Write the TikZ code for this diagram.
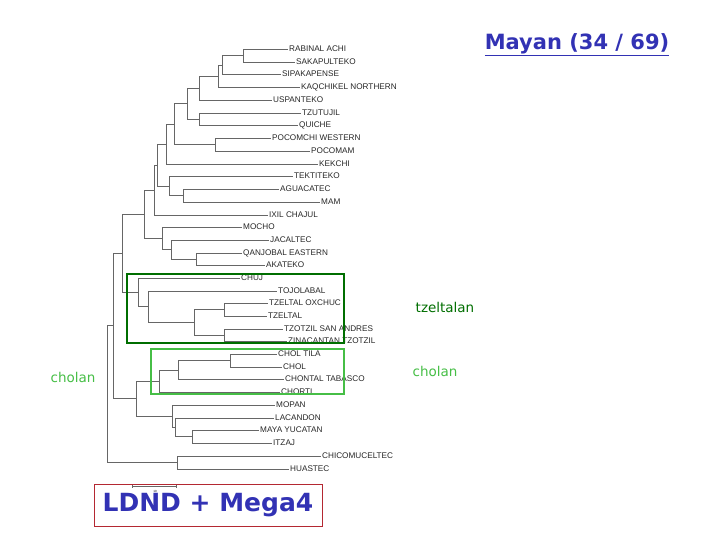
\documentclass[tikz,border=0pt]{standalone}
\usepackage{fontspec}
\setmainfont{Liberation Sans}
\newfontfamily\dvs{DejaVu Sans}
\begin{document}
\begin{tikzpicture}[x=1pt,y=-1pt,
 leaf/.style={anchor=west,inner sep=1pt,font=\fontsize{8.2}{9}\selectfont,text=black!85},
 br/.style={draw=black!60,line width=0.8pt},
 dkbox/.style={draw={rgb,255:red,0;green,110;blue,0},line width=2pt},
 ltbox/.style={draw={rgb,255:red,70;green,190;blue,70},line width=2pt}]
\useasboundingbox (0,0) rectangle (720,540);
% leaves
\foreach \n/\x/\y/\t in {rab/288/49/RABINAL ACHI, sak/295/62/SAKAPULTEKO, sip/281/74/SIPAKAPENSE, kaq/300/87/KAQCHIKEL NORTHERN, usp/272/100/USPANTEKO, tzu/301/113/TZUTUJIL, qui/298/125/QUICHE, pcw/271/138/POCOMCHI WESTERN, pcm/310/151/POCOMAM, kek/318/164/KEKCHI, tek/293/176/TEKTITEKO, agu/279/189/AGUACATEC, mam/320/202/MAM, ixi/268/215/IXIL CHAJUL, moc/242/227/MOCHO, jac/269/240/JACALTEC, qan/242/253/QANJOBAL EASTERN, aka/265/265/AKATEKO, chu/240/278/CHUJ, toj/277/291/TOJOLABAL, tzo/268/303/TZELTAL OXCHUC, tze/267/316/TZELTAL, tzs/283/329/TZOTZIL SAN ANDRES, zin/287/341/ZINACANTAN TZOTZIL, cht/277/354/CHOL TILA, cho/282/367/CHOL, con/284/379/CHONTAL TABASCO, cor/280/392/CHORTI, mop/275/405/MOPAN, lac/274/418/LACANDON, may/259/430/MAYA YUCATAN, itz/272/443/ITZAJ, chi/321/456/CHICOMUCELTEC, hua/289/469/HUASTEC}
  \node[leaf] (\n) at (\x,\y) {\t};
% internal nodes
\foreach \n/\x/\y in {n1/243/55.5, n2/222/65, n3/218/76, n4/199/88, n5/199/119, n6/187/103.5, n7/215/144.5, n8/174/124, n9/166/144, m1/183/195.5, m2/169/186, n10/157/165, n11/154/190, q1/196/259, q2/171/249.5, q3/162/238, n12/144/214, t1/224/309.5, t2/224/335, t3/194/322, t4/148/306, t5/138/292, n13/122/253, c1/230/360.5, c2/178/370, c3/159/381, y1/192/436.5, y2/175/427, y3/172/416, c4/136/398, n14/113/325, h1/177/462.5, root/107/394}
  \coordinate (\n) at (\x,\y);
\foreach \p/\c in {n1/rab.west, n1/sak.west, n2/n1, n2/sip.west, n3/n2, n3/kaq.west, n4/n3, n4/usp.west, n5/tzu.west, n5/qui.west, n6/n4, n6/n5, n7/pcw.west, n7/pcm.west, n8/n6, n8/n7, n9/n8, n9/kek.west, m1/agu.west, m1/mam.west, m2/tek.west, m2/m1, n10/n9, n10/m2, n11/n10, n11/ixi.west, q1/qan.west, q1/aka.west, q2/jac.west, q2/q1, q3/moc.west, q3/q2, n12/n11, n12/q3, t1/tzo.west, t1/tze.west, t2/tzs.west, t2/zin.west, t3/t1, t3/t2, t4/toj.west, t4/t3, t5/chu.west, t5/t4, n13/n12, n13/t5, c1/cht.west, c1/cho.west, c2/c1, c2/con.west, c3/c2, c3/cor.west, y1/may.west, y1/itz.west, y2/lac.west, y2/y1, y3/mop.west, y3/y2, c4/c3, c4/y3, n14/n13, n14/c4, h1/chi.west, h1/hua.west, root/n14, root/h1}
  \draw[br] (\p) |- (\c);
% scale bar
\coordinate (sb1) at (132,486); \coordinate (sb2) at (176,486);
\draw[black!60,line width=0.6pt] (sb1) -- (sb2) (sb1) ++(0,-2) -- ++(0,4) (sb2) ++(0,-2) -- ++(0,4);
\node[font=\fontsize{3}{3}\selectfont,inner sep=0pt] (sbl) at (155,491) {10};
% boxes
\draw[dkbox] (127,274) rectangle (344,343);
\draw[ltbox] (151,349) rectangle (344,394);
\node[text={rgb,255:red,0;green,110;blue,0},font=\dvs\fontsize{13.5}{15}\selectfont] (tz) at (445,307) {tzeltalan};
\node[text={rgb,255:red,70;green,190;blue,70},font=\dvs\fontsize{13.5}{15}\selectfont] (ch1) at (73,377) {cholan};
\node[text={rgb,255:red,70;green,190;blue,70},font=\dvs\fontsize{13.5}{15}\selectfont] (ch2) at (435,371) {cholan};
\node[text={rgb,255:red,50;green,50;blue,180},font=\dvs\bfseries\fontsize{21}{24}\selectfont,inner sep=1pt] (title) at (577,45) {\underline{Mayan (34 / 69)}};
\node[draw={rgb,255:red,180;green,40;blue,50},line width=0.8pt,minimum width=228pt,minimum height=42pt,text={rgb,255:red,50;green,50;blue,180},font=\dvs\bfseries\fontsize{25}{28}\selectfont] (ld) at (208,505.5) {LDND + Mega4};
\end{tikzpicture}
\end{document}
